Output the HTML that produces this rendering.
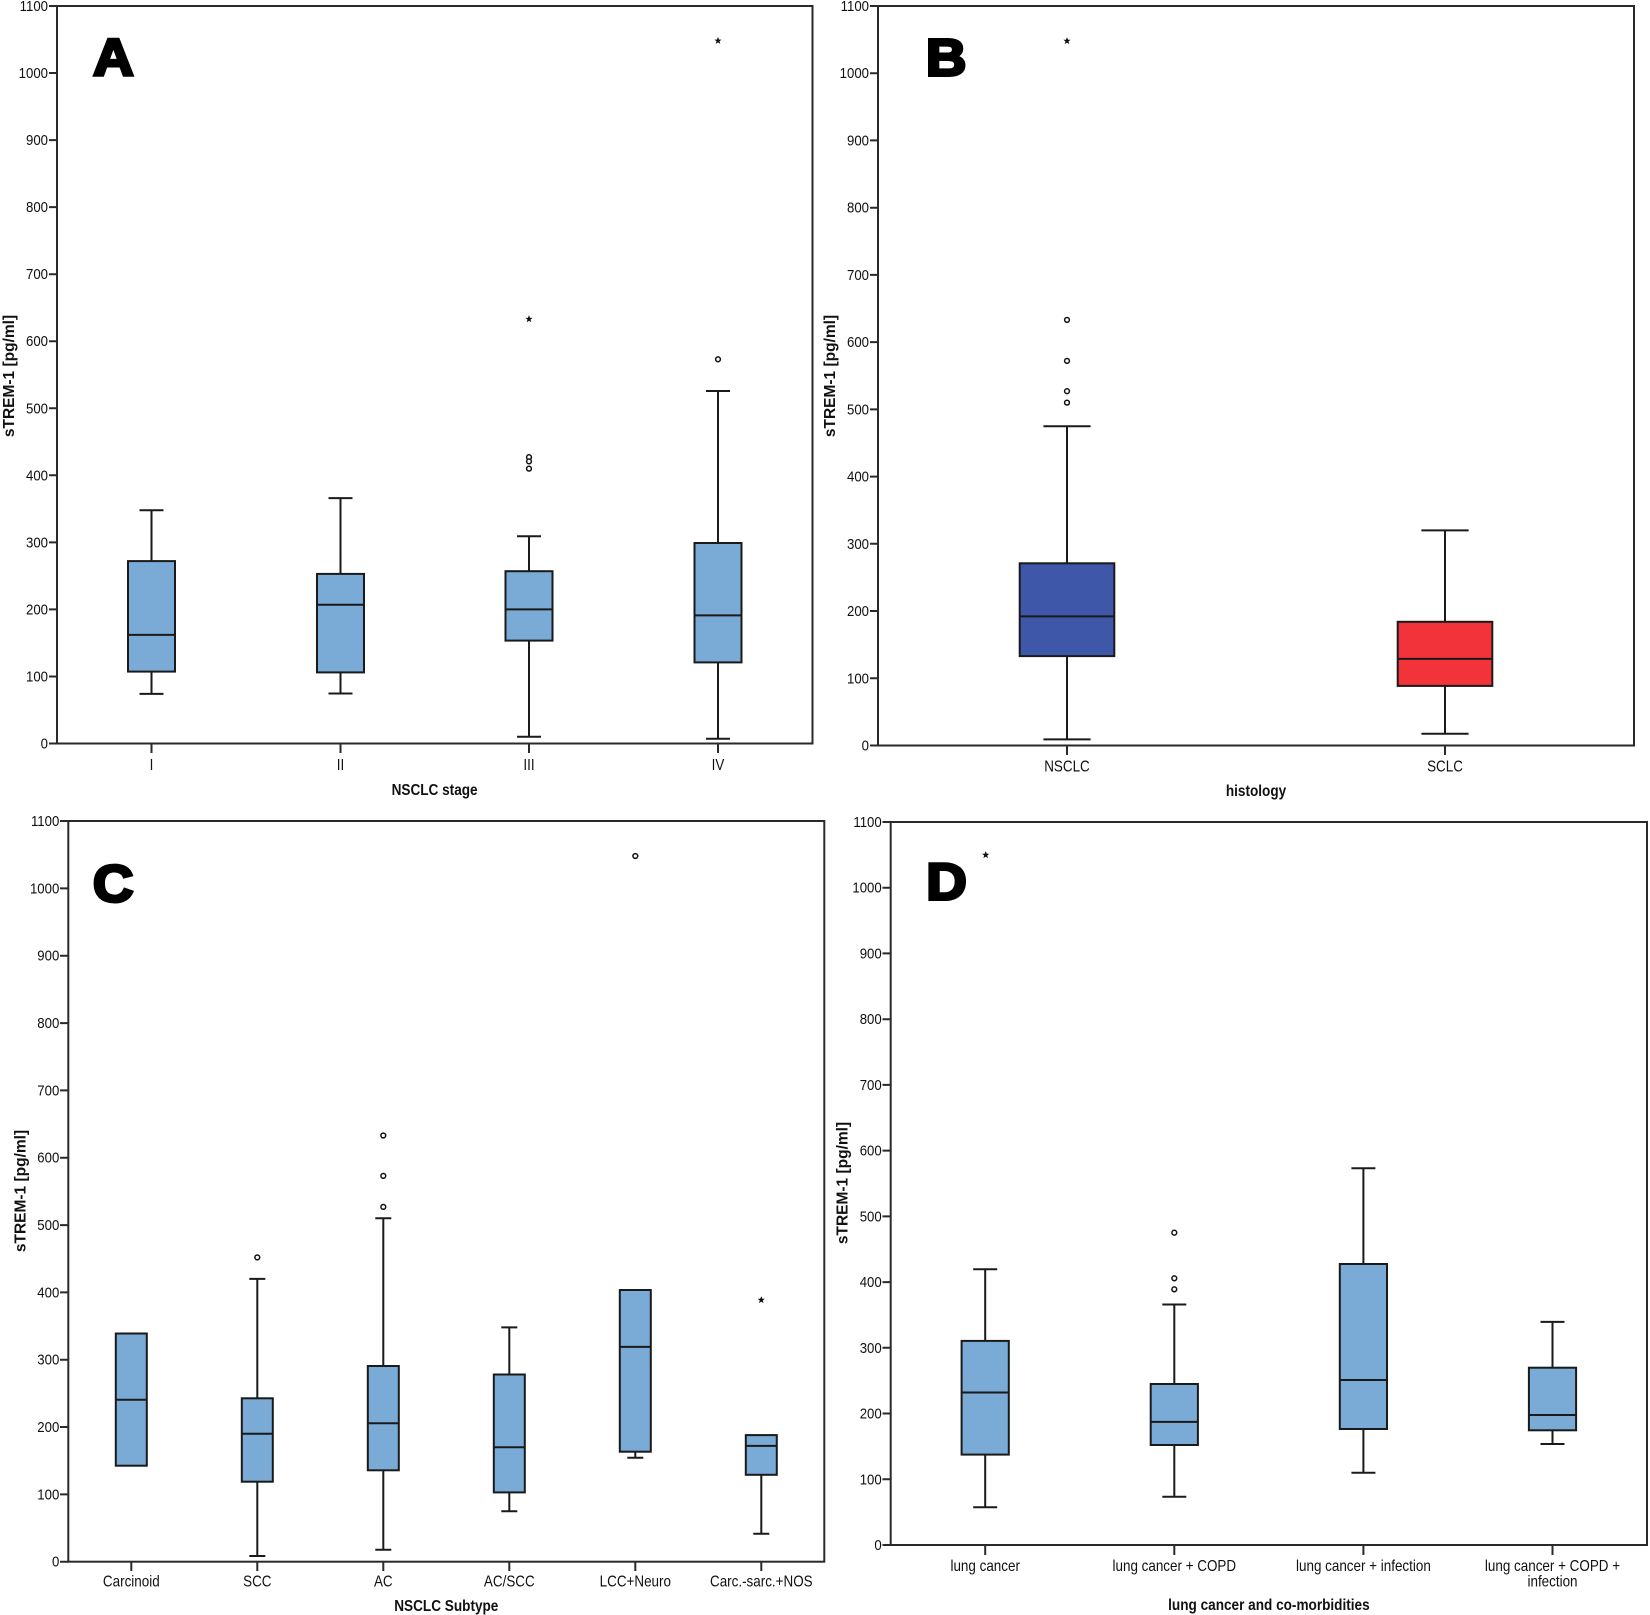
<!DOCTYPE html>
<html><head><meta charset="utf-8"><style>
html,body{margin:0;padding:0;background:#fff;}
svg{display:block;}
text{font-family:"Liberation Sans",Arial,sans-serif;fill:#111;}
</style></head><body>
<svg width="1650" height="1615" viewBox="0 0 1650 1615" xmlns="http://www.w3.org/2000/svg">
<rect x="0" y="0" width="1650" height="1615" fill="#fff"/>

<!-- ================= PANEL A ================= -->
<g stroke="#2a2a2a" stroke-width="2" fill="none">
<rect x="57" y="6" width="755.5" height="737.5"/>
<path d="M49 743.5H57M49 676.5H57M49 609.4H57M49 542.4H57M49 475.3H57M49 408.3H57M49 341.2H57M49 274.2H57M49 207.1H57M49 140.1H57M49 73H57M49 6H57"/>
<path d="M151.5 743.5V753M340.5 743.5V753M529 743.5V753M718 743.5V753"/>
</g>
<g transform="translate(48,0) scale(0.88,1)" text-anchor="end" font-size="15">
<text x="0" y="748.5">0</text><text x="0" y="681.5">100</text><text x="0" y="614.4">200</text><text x="0" y="547.4">300</text><text x="0" y="480.3">400</text><text x="0" y="413.3">500</text><text x="0" y="346.2">600</text><text x="0" y="279.2">700</text><text x="0" y="212.1">800</text><text x="0" y="145.1">900</text><text x="0" y="78">1000</text><text x="0" y="11">1100</text>
</g>
<g font-size="16" text-anchor="middle">
<text transform="translate(151.5,770) scale(0.84,1)">I</text>
<text transform="translate(340.5,770) scale(0.84,1)">II</text>
<text transform="translate(529,770) scale(0.84,1)">III</text>
<text transform="translate(718,770) scale(0.84,1)">IV</text>
</g>
<text transform="translate(434.6,795) scale(0.85,1)" text-anchor="middle" font-size="16" font-weight="bold">NSCLC stage</text>
<text transform="translate(14,376) rotate(-90)" text-anchor="middle" font-size="15.5" font-weight="bold">sTREM-1 [pg/ml]</text>
<text transform="translate(113.4,75.2) scale(1.08,1)" text-anchor="middle" font-size="52" font-weight="bold" stroke="#000" stroke-width="3" style="fill:#000">A</text>

<g stroke="#1a1a1a" stroke-width="2">
<!-- I -->
<path d="M151.5 510.2V561.1M151.5 671.6V693.9M139.5 510.2H163.5M139.5 693.9H163.5" fill="none"/>
<rect x="128" y="561.1" width="47" height="110.5" fill="#7AAAD6"/>
<path d="M128 634.9H175"/>
<!-- II -->
<path d="M340.5 498.1V573.9M340.5 672.4V693.5M328.5 498.1H352.5M328.5 693.5H352.5" fill="none"/>
<rect x="317" y="573.9" width="47" height="98.5" fill="#7AAAD6"/>
<path d="M317 604.7H364"/>
<!-- III -->
<path d="M529 536.3V571.2M529 640.6V736.8M517 536.3H541M517 736.8H541" fill="none"/>
<rect x="505.5" y="571.2" width="47" height="69.4" fill="#7AAAD6"/>
<path d="M505.5 609.4H552.5"/>
<!-- IV -->
<path d="M718 391V543M718 662.4V738.8M706 391H730M706 738.8H730" fill="none"/>
<rect x="694.5" y="543" width="47" height="119.4" fill="#7AAAD6"/>
<path d="M694.5 615.4H741.5"/>
</g>
<g stroke="#111" stroke-width="1.5" fill="#fff">
<circle cx="529" cy="457.2" r="2.4"/><circle cx="529" cy="461.4" r="2.4"/><circle cx="529" cy="468.6" r="2.4"/>
<circle cx="718" cy="359.3" r="2.4"/>
</g>
<g fill="#111">
<path transform="translate(529,319.1)" d="M0,-3.8L1.1,-1.2 3.6,-1.2 1.5,0.5 2.3,3.1 0,1.6 -2.3,3.1 -1.5,0.5 -3.6,-1.2 -1.1,-1.2Z"/>
<path transform="translate(718,40.8)" d="M0,-3.8L1.1,-1.2 3.6,-1.2 1.5,0.5 2.3,3.1 0,1.6 -2.3,3.1 -1.5,0.5 -3.6,-1.2 -1.1,-1.2Z"/>
</g>

<!-- ================= PANEL B ================= -->
<g stroke="#2a2a2a" stroke-width="2" fill="none">
<rect x="878" y="6" width="756" height="739.5"/>
<path d="M870 745.5H878M870 678.3H878M870 611H878M870 543.8H878M870 476.6H878M870 409.4H878M870 342.1H878M870 274.9H878M870 207.7H878M870 140.4H878M870 73.2H878M870 6H878"/>
<path d="M1067 745.5V755M1445 745.5V755"/>
</g>
<g transform="translate(869,0) scale(0.88,1)" text-anchor="end" font-size="15">
<text x="0" y="750.5">0</text><text x="0" y="683.3">100</text><text x="0" y="616">200</text><text x="0" y="548.8">300</text><text x="0" y="481.6">400</text><text x="0" y="414.4">500</text><text x="0" y="347.1">600</text><text x="0" y="279.9">700</text><text x="0" y="212.7">800</text><text x="0" y="145.4">900</text><text x="0" y="78.2">1000</text><text x="0" y="11">1100</text>
</g>
<g font-size="16" text-anchor="middle">
<text transform="translate(1067,771.5) scale(0.84,1)">NSCLC</text>
<text transform="translate(1445,771.5) scale(0.84,1)">SCLC</text>
</g>
<text transform="translate(1256,796) scale(0.85,1)" text-anchor="middle" font-size="16" font-weight="bold">histology</text>
<text transform="translate(835,376) rotate(-90)" text-anchor="middle" font-size="15.5" font-weight="bold">sTREM-1 [pg/ml]</text>
<text transform="translate(946.2,75.5) scale(1.08,1)" text-anchor="middle" font-size="52" font-weight="bold" stroke="#000" stroke-width="3" style="fill:#000">B</text>

<g stroke="#1a1a1a" stroke-width="2">
<path d="M1067 426.2V563.3M1067 656.1V739.4M1043.4 426.2H1090.6M1043.4 739.4H1090.6" fill="none"/>
<rect x="1019.7" y="563.3" width="94.6" height="92.8" fill="#3E57A9"/>
<path d="M1019.7 616.4H1114.3"/>
<path d="M1445 530.4V621.8M1445 685.9V733.8M1421.4 530.4H1468.6M1421.4 733.8H1468.6" fill="none"/>
<rect x="1397.7" y="621.8" width="94.6" height="64.1" fill="#F2333A"/>
<path d="M1397.7 658.9H1492.3"/>
</g>
<g stroke="#111" stroke-width="1.5" fill="#fff">
<circle cx="1067" cy="319.9" r="2.4"/><circle cx="1067" cy="360.9" r="2.4"/><circle cx="1067" cy="391.2" r="2.4"/><circle cx="1067" cy="402.6" r="2.4"/>
</g>
<path fill="#111" transform="translate(1067,41)" d="M0,-3.8L1.1,-1.2 3.6,-1.2 1.5,0.5 2.3,3.1 0,1.6 -2.3,3.1 -1.5,0.5 -3.6,-1.2 -1.1,-1.2Z"/>

<!-- ================= PANEL C ================= -->
<g stroke="#2a2a2a" stroke-width="2" fill="none">
<rect x="68.3" y="821" width="756" height="740.7"/>
<path d="M60 1561.7H68.3M60 1494.4H68.3M60 1427H68.3M60 1359.7H68.3M60 1292.4H68.3M60 1225.1H68.3M60 1157.7H68.3M60 1090.4H68.3M60 1023.1H68.3M60 955.7H68.3M60 888.4H68.3M60 821H68.3"/>
<path d="M131.3 1561.7V1571M257.3 1561.7V1571M383.3 1561.7V1571M509.3 1561.7V1571M635.3 1561.7V1571M761.3 1561.7V1571"/>
</g>
<g transform="translate(59.3,0) scale(0.88,1)" text-anchor="end" font-size="15">
<text x="0" y="1566.7">0</text><text x="0" y="1499.4">100</text><text x="0" y="1432">200</text><text x="0" y="1364.7">300</text><text x="0" y="1297.4">400</text><text x="0" y="1230.1">500</text><text x="0" y="1162.7">600</text><text x="0" y="1095.4">700</text><text x="0" y="1028.1">800</text><text x="0" y="960.7">900</text><text x="0" y="893.4">1000</text><text x="0" y="826">1100</text>
</g>
<g font-size="16" text-anchor="middle">
<text transform="translate(131.3,1586.7) scale(0.84,1)">Carcinoid</text>
<text transform="translate(257.3,1586.7) scale(0.84,1)">SCC</text>
<text transform="translate(383.3,1586.7) scale(0.84,1)">AC</text>
<text transform="translate(509.3,1586.7) scale(0.84,1)">AC/SCC</text>
<text transform="translate(635.3,1586.7) scale(0.84,1)">LCC+Neuro</text>
<text transform="translate(761.3,1586.7) scale(0.84,1)">Carc.-sarc.+NOS</text>
</g>
<text transform="translate(446.3,1611) scale(0.85,1)" text-anchor="middle" font-size="16" font-weight="bold">NSCLC Subtype</text>
<text transform="translate(25.3,1191) rotate(-90)" text-anchor="middle" font-size="15.5" font-weight="bold">sTREM-1 [pg/ml]</text>
<text transform="translate(113.2,901.5) scale(1.08,1)" text-anchor="middle" font-size="52" font-weight="bold" stroke="#000" stroke-width="3" style="fill:#000">C</text>

<g stroke="#1a1a1a" stroke-width="2">
<!-- Carcinoid -->
<rect x="115.8" y="1333.5" width="31" height="132.2" fill="#7AAAD6"/>
<path d="M115.8 1399.7H146.8"/>
<!-- SCC -->
<path d="M257.3 1278.9V1398.3M257.3 1481.7V1556M249.3 1278.9H265.3M249.3 1556H265.3" fill="none"/>
<rect x="241.8" y="1398.3" width="31" height="83.4" fill="#7AAAD6"/>
<path d="M241.8 1433.8H272.8"/>
<!-- AC -->
<path d="M383.3 1218.3V1366M383.3 1470.3V1549.7M375.3 1218.3H391.3M375.3 1549.7H391.3" fill="none"/>
<rect x="367.8" y="1366" width="31" height="104.3" fill="#7AAAD6"/>
<path d="M367.8 1423.3H398.8"/>
<!-- AC/SCC -->
<path d="M509.3 1327.4V1374.5M509.3 1492.4V1511.2M501.3 1327.4H517.3M501.3 1511.2H517.3" fill="none"/>
<rect x="493.8" y="1374.5" width="31" height="117.9" fill="#7AAAD6"/>
<path d="M493.8 1447.2H524.8"/>
<!-- LCC -->
<path d="M635.3 1451.7V1457.7M627.3 1457.7H643.3" fill="none"/>
<rect x="619.8" y="1290" width="31" height="161.7" fill="#7AAAD6"/>
<path d="M619.8 1346.9H650.8"/>
<!-- Carc -->
<path d="M761.3 1474.8V1533.7M753.3 1533.7H769.3" fill="none"/>
<rect x="745.8" y="1435.1" width="31" height="39.7" fill="#7AAAD6"/>
<path d="M745.8 1445.9H776.8"/>
</g>
<g stroke="#111" stroke-width="1.5" fill="#fff">
<circle cx="257.3" cy="1257.4" r="2.4"/>
<circle cx="383.3" cy="1135.5" r="2.4"/><circle cx="383.3" cy="1175.9" r="2.4"/><circle cx="383.3" cy="1206.9" r="2.4"/>
<circle cx="635.3" cy="856" r="2.4"/>
</g>
<path fill="#111" transform="translate(761.3,1300)" d="M0,-3.8L1.1,-1.2 3.6,-1.2 1.5,0.5 2.3,3.1 0,1.6 -2.3,3.1 -1.5,0.5 -3.6,-1.2 -1.1,-1.2Z"/>

<!-- ================= PANEL D ================= -->
<g stroke="#2a2a2a" stroke-width="2" fill="none">
<rect x="890.7" y="822" width="756.3" height="723"/>
<path d="M882.5 1545H890.7M882.5 1479.3H890.7M882.5 1413.5H890.7M882.5 1347.8H890.7M882.5 1282.1H890.7M882.5 1216.4H890.7M882.5 1150.6H890.7M882.5 1084.9H890.7M882.5 1019.2H890.7M882.5 953.4H890.7M882.5 887.7H890.7M882.5 822H890.7"/>
<path d="M985.2 1545V1555M1174.3 1545V1555M1363.4 1545V1555M1552.5 1545V1555"/>
</g>
<g transform="translate(881.7,0) scale(0.88,1)" text-anchor="end" font-size="15">
<text x="0" y="1550">0</text><text x="0" y="1484.3">100</text><text x="0" y="1418.5">200</text><text x="0" y="1352.8">300</text><text x="0" y="1287.1">400</text><text x="0" y="1221.4">500</text><text x="0" y="1155.6">600</text><text x="0" y="1089.9">700</text><text x="0" y="1024.2">800</text><text x="0" y="958.4">900</text><text x="0" y="892.7">1000</text><text x="0" y="827">1100</text>
</g>
<g font-size="16" text-anchor="middle">
<text transform="translate(985.2,1571) scale(0.84,1)">lung cancer</text>
<text transform="translate(1174.3,1571) scale(0.84,1)">lung cancer + COPD</text>
<text transform="translate(1363.4,1571) scale(0.84,1)">lung cancer + infection</text>
<text transform="translate(1552.5,1571) scale(0.84,1)">lung cancer + COPD +</text>
<text transform="translate(1552.5,1586.7) scale(0.84,1)">infection</text>
</g>
<text transform="translate(1268.9,1610) scale(0.85,1)" text-anchor="middle" font-size="16" font-weight="bold">lung cancer and co-morbidities</text>
<text transform="translate(847.7,1183) rotate(-90)" text-anchor="middle" font-size="15.5" font-weight="bold">sTREM-1 [pg/ml]</text>
<text transform="translate(946.5,899.5) scale(1.08,1)" text-anchor="middle" font-size="52" font-weight="bold" stroke="#000" stroke-width="3" style="fill:#000">D</text>

<g stroke="#1a1a1a" stroke-width="2">
<!-- lung cancer -->
<path d="M985.2 1269.3V1340.9M985.2 1454.6V1507.2M973.2 1269.3H997.2M973.2 1507.2H997.2" fill="none"/>
<rect x="961.6" y="1340.9" width="47.2" height="113.7" fill="#7AAAD6"/>
<path d="M961.6 1392.5H1008.8"/>
<!-- + COPD -->
<path d="M1174.3 1304.5V1384M1174.3 1445V1496.7M1162.3 1304.5H1186.3M1162.3 1496.7H1186.3" fill="none"/>
<rect x="1150.7" y="1384" width="47.2" height="61" fill="#7AAAD6"/>
<path d="M1150.7 1421.9H1197.9"/>
<!-- + infection -->
<path d="M1363.4 1168.3V1264M1363.4 1429V1472.7M1351.4 1168.3H1375.4M1351.4 1472.7H1375.4" fill="none"/>
<rect x="1339.8" y="1264" width="47.2" height="165" fill="#7AAAD6"/>
<path d="M1339.8 1380H1387"/>
<!-- + COPD + infection -->
<path d="M1552.5 1321.9V1367.7M1552.5 1430.3V1444M1540.5 1321.9H1564.5M1540.5 1444H1564.5" fill="none"/>
<rect x="1528.9" y="1367.7" width="47.2" height="62.6" fill="#7AAAD6"/>
<path d="M1528.9 1415H1576.1"/>
</g>
<g stroke="#111" stroke-width="1.5" fill="#fff">
<circle cx="1174.3" cy="1232.7" r="2.4"/><circle cx="1174.3" cy="1278.3" r="2.4"/><circle cx="1174.3" cy="1289.3" r="2.4"/>
</g>
<path fill="#111" transform="translate(985.7,855)" d="M0,-3.8L1.1,-1.2 3.6,-1.2 1.5,0.5 2.3,3.1 0,1.6 -2.3,3.1 -1.5,0.5 -3.6,-1.2 -1.1,-1.2Z"/>
</svg>
</body></html>
